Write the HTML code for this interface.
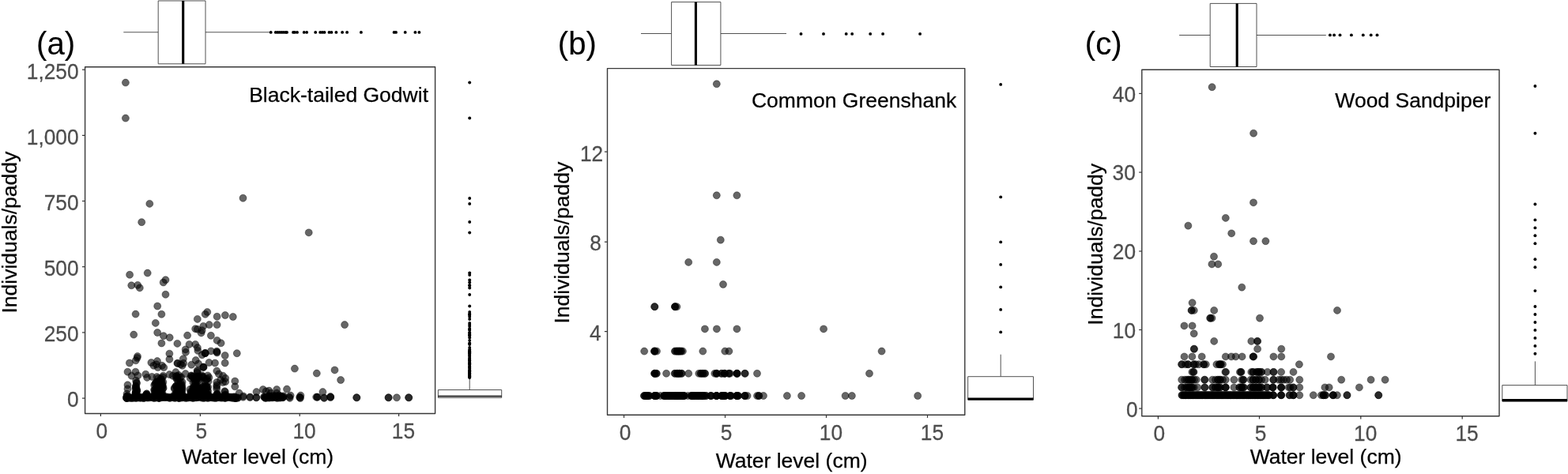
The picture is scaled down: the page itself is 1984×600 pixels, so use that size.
<!DOCTYPE html>
<html lang="en">
<head>
<meta charset="utf-8">
<title>Water level and shorebird abundance</title>
<style>
html,body{margin:0;padding:0;background:#fff;}
body{width:1984px;height:600px;overflow:hidden;}
svg{display:block;font-family:"Liberation Sans", Arial, Helvetica, sans-serif;}
.tk{font-size:26.3px;fill:#4d4d4d;stroke:#4d4d4d;stroke-width:0.25px;}
.ax{font-size:26.5px;fill:#000;stroke:#000;stroke-width:0.25px;}
.tag{font-size:40.2px;fill:#000;stroke:#000;stroke-width:0.1px;text-anchor:middle;}
.fr{fill:none;stroke:#383838;stroke-width:1.4;stroke-linejoin:round;}
.t{stroke:#333;stroke-width:1.2;fill:none;}
.bx{fill:#fff;stroke:#333;stroke-width:0.85;stroke-linejoin:round;}
.wh{stroke:#333;stroke-width:0.85;fill:none;}
.md{stroke:#000;stroke-width:3.1;fill:none;}
.p circle{fill:#000;fill-opacity:0.6;stroke:#000;stroke-opacity:0.55;stroke-width:0.7;}
.o circle{fill:#000;}
</style>
</head>
<body>
<svg width="1984" height="600" viewBox="0 0 1984 600">
<rect x="0" y="0" width="1984" height="600" fill="#fff"/>
<g id="panel-a">
<line class="wh" x1="156.3" y1="40.8" x2="200.2" y2="40.8"/>
<line class="wh" x1="260" y1="40.8" x2="342" y2="40.8"/>
<rect class="bx" x="200.2" y="1" width="59.8" height="79.8"/>
<line class="md" x1="231.7" y1="1" x2="231.7" y2="80.8"/>
<g class="o"><circle cx="342.7" cy="40.9" r="1.95"/><circle cx="348.8" cy="40.9" r="1.95"/><circle cx="351.4" cy="40.9" r="1.95"/><circle cx="354" cy="40.9" r="1.95"/><circle cx="356.5" cy="40.9" r="1.95"/><circle cx="359" cy="40.9" r="1.95"/><circle cx="361.5" cy="40.9" r="1.95"/><circle cx="363" cy="40.9" r="1.95"/><circle cx="371" cy="40.9" r="1.95"/><circle cx="373" cy="40.9" r="1.95"/><circle cx="376" cy="40.9" r="1.95"/><circle cx="384.7" cy="40.9" r="1.95"/><circle cx="388.1" cy="40.9" r="1.95"/><circle cx="399.2" cy="40.9" r="1.95"/><circle cx="405.2" cy="40.9" r="1.95"/><circle cx="407.9" cy="40.9" r="1.95"/><circle cx="410.5" cy="40.9" r="1.95"/><circle cx="416.5" cy="40.9" r="1.95"/><circle cx="419.4" cy="40.9" r="1.95"/><circle cx="425.4" cy="40.9" r="1.95"/><circle cx="433.1" cy="40.9" r="1.95"/><circle cx="439.1" cy="40.9" r="1.95"/><circle cx="456.9" cy="40.9" r="1.95"/><circle cx="498.6" cy="40.9" r="1.95"/><circle cx="501" cy="40.9" r="1.95"/><circle cx="512.7" cy="40.9" r="1.95"/><circle cx="525.4" cy="40.9" r="1.95"/><circle cx="530.4" cy="40.9" r="1.95"/></g>
<line class="wh" x1="594.2" y1="480" x2="594.2" y2="493.5"/>
<rect class="bx" x="554.4" y="493.5" width="80.3" height="9.9"/>
<line class="md" x1="554.4" y1="501.5" x2="634.7" y2="501.5" style="stroke-width:1.5"/>
<g class="o"><circle cx="594.2" cy="104.5" r="1.95"/><circle cx="594.2" cy="149.5" r="1.95"/><circle cx="594.2" cy="251" r="1.95"/><circle cx="594.2" cy="258" r="1.95"/><circle cx="594.2" cy="281" r="1.95"/><circle cx="594.2" cy="294.5" r="1.95"/><circle cx="594.2" cy="345.5" r="1.95"/><circle cx="594.2" cy="348" r="1.95"/><circle cx="594.2" cy="354.5" r="1.95"/><circle cx="594.2" cy="357.5" r="1.95"/><circle cx="594.2" cy="361" r="1.95"/><circle cx="594.2" cy="361.5" r="1.95"/><circle cx="594.2" cy="364.5" r="1.95"/><circle cx="594.2" cy="373" r="1.95"/><circle cx="594.2" cy="387.5" r="1.95"/><circle cx="594.2" cy="395" r="1.95"/><circle cx="594.2" cy="397.5" r="1.95"/><circle cx="594.2" cy="398" r="1.95"/><circle cx="594.2" cy="399" r="1.95"/><circle cx="594.2" cy="401" r="1.95"/><circle cx="594.2" cy="404" r="1.95"/><circle cx="594.2" cy="409" r="1.95"/><circle cx="594.2" cy="411" r="1.95"/><circle cx="594.2" cy="413" r="1.95"/><circle cx="594.2" cy="416" r="1.95"/><circle cx="594.2" cy="417" r="1.95"/><circle cx="594.2" cy="418" r="1.95"/><circle cx="594.2" cy="421" r="1.95"/><circle cx="594.2" cy="421.5" r="1.95"/><circle cx="594.2" cy="423.5" r="1.95"/><circle cx="594.2" cy="424.5" r="1.95"/><circle cx="594.2" cy="425" r="1.95"/><circle cx="594.2" cy="427.5" r="1.95"/><circle cx="594.2" cy="431" r="1.95"/><circle cx="594.2" cy="434.5" r="1.95"/><circle cx="594.2" cy="435" r="1.95"/><circle cx="594.2" cy="436" r="1.95"/><circle cx="594.2" cy="440" r="1.95"/><circle cx="594.2" cy="442.5" r="1.95"/><circle cx="594.2" cy="444" r="1.95"/><circle cx="594.2" cy="444.5" r="1.95"/><circle cx="594.2" cy="445.5" r="1.95"/><circle cx="594.2" cy="446" r="1.95"/><circle cx="594.2" cy="446.5" r="1.95"/><circle cx="594.2" cy="447" r="1.95"/><circle cx="594.2" cy="447.5" r="1.95"/><circle cx="594.2" cy="449" r="1.95"/><circle cx="594.2" cy="450" r="1.95"/><circle cx="594.2" cy="451" r="1.95"/><circle cx="594.2" cy="453" r="1.95"/><circle cx="594.2" cy="454" r="1.95"/><circle cx="594.2" cy="455" r="1.95"/><circle cx="594.2" cy="456" r="1.95"/><circle cx="594.2" cy="456.5" r="1.95"/><circle cx="594.2" cy="457" r="1.95"/><circle cx="594.2" cy="459" r="1.95"/><circle cx="594.2" cy="459.5" r="1.95"/><circle cx="594.2" cy="460" r="1.95"/><circle cx="594.2" cy="460.5" r="1.95"/><circle cx="594.2" cy="461.5" r="1.95"/><circle cx="594.2" cy="463" r="1.95"/><circle cx="594.2" cy="464.5" r="1.95"/><circle cx="594.2" cy="465" r="1.95"/><circle cx="594.2" cy="466.5" r="1.95"/><circle cx="594.2" cy="468.5" r="1.95"/><circle cx="594.2" cy="469" r="1.95"/><circle cx="594.2" cy="469.5" r="1.95"/><circle cx="594.2" cy="470" r="1.95"/><circle cx="594.2" cy="470.5" r="1.95"/><circle cx="594.2" cy="471" r="1.95"/><circle cx="594.2" cy="472" r="1.95"/><circle cx="594.2" cy="472.5" r="1.95"/><circle cx="594.2" cy="473" r="1.95"/><circle cx="594.2" cy="473.5" r="1.95"/><circle cx="594.2" cy="474" r="1.95"/><circle cx="594.2" cy="475" r="1.95"/><circle cx="594.2" cy="475.5" r="1.95"/><circle cx="594.2" cy="476" r="1.95"/><circle cx="594.2" cy="476.5" r="1.95"/><circle cx="594.2" cy="477" r="1.95"/><circle cx="594.2" cy="477.5" r="1.95"/><circle cx="594.2" cy="478" r="1.95"/></g>
<g class="p"><circle cx="158.9" cy="104.6" r="4.5"/><circle cx="158.9" cy="149.6" r="4.5"/><circle cx="189.3" cy="257.9" r="4.5"/><circle cx="179.2" cy="281.2" r="4.5"/><circle cx="307.5" cy="250.8" r="4.5"/><circle cx="390.7" cy="294.4" r="4.5"/><circle cx="164.1" cy="347.8" r="4.5"/><circle cx="186.7" cy="345.6" r="4.5"/>
<circle cx="209.5" cy="354.3" r="4.5"/><circle cx="206.7" cy="357.5" r="4.5"/><circle cx="166.3" cy="361.3" r="4.5"/><circle cx="174.2" cy="360.9" r="4.5"/><circle cx="176.8" cy="364.4" r="4.5"/><circle cx="209.5" cy="372.8" r="4.5"/><circle cx="199.2" cy="387.5" r="4.5"/><circle cx="171.6" cy="397.6" r="4.5"/>
<circle cx="204.4" cy="397.8" r="4.5"/><circle cx="196.8" cy="408.9" r="4.5"/><circle cx="169.2" cy="423.6" r="4.5"/><circle cx="199.2" cy="421" r="4.5"/><circle cx="206.9" cy="425.2" r="4.5"/><circle cx="214.7" cy="427.3" r="4.5"/><circle cx="204.4" cy="434.5" r="4.5"/><circle cx="224.4" cy="434.9" r="4.5"/>
<circle cx="237.1" cy="424.6" r="4.5"/><circle cx="239.5" cy="435.9" r="4.5"/><circle cx="247.2" cy="435.9" r="4.5"/><circle cx="249.8" cy="403.9" r="4.5"/><circle cx="262.3" cy="395" r="4.5"/><circle cx="259.7" cy="397.8" r="4.5"/><circle cx="274.6" cy="400.8" r="4.5"/><circle cx="284.9" cy="399" r="4.5"/>
<circle cx="294.8" cy="401" r="4.5"/><circle cx="264.7" cy="411.1" r="4.5"/><circle cx="274.6" cy="411.1" r="4.5"/><circle cx="257.3" cy="412.9" r="4.5"/><circle cx="247.2" cy="416.2" r="4.5"/><circle cx="249.8" cy="416.8" r="4.5"/><circle cx="255.6" cy="418.2" r="4.5"/><circle cx="254.6" cy="421.4" r="4.5"/>
<circle cx="266.9" cy="424.8" r="4.5"/><circle cx="274.6" cy="430.9" r="4.5"/><circle cx="279.6" cy="434.3" r="4.5"/><circle cx="436.1" cy="411.1" r="4.5"/><circle cx="234.7" cy="442.4" r="4.5"/><circle cx="235" cy="445.9" r="4.5"/><circle cx="249.9" cy="440.1" r="4.5"/><circle cx="250.4" cy="443.9" r="4.5"/>
<circle cx="259.5" cy="446.9" r="4.5"/><circle cx="255.7" cy="449.2" r="4.5"/><circle cx="267" cy="444.4" r="4.5"/><circle cx="274.3" cy="444.7" r="4.5"/><circle cx="274.6" cy="446.5" r="4.5"/><circle cx="284.7" cy="450" r="4.5"/><circle cx="299.8" cy="447.2" r="4.5"/><circle cx="214.4" cy="447.7" r="4.5"/>
<circle cx="214.4" cy="454.8" r="4.5"/><circle cx="174" cy="451" r="4.5"/><circle cx="173.6" cy="453" r="4.5"/><circle cx="171.8" cy="456.3" r="4.5"/><circle cx="163.9" cy="459.5" r="4.5"/><circle cx="199" cy="457.1" r="4.5"/><circle cx="191.4" cy="459" r="4.5"/><circle cx="194.4" cy="462.8" r="4.5"/>
<circle cx="197.8" cy="461.3" r="4.5"/><circle cx="199.7" cy="465.1" r="4.5"/><circle cx="205" cy="462.8" r="4.5"/><circle cx="207.3" cy="465.1" r="4.5"/><circle cx="231.8" cy="454.2" r="4.5"/><circle cx="224.7" cy="459.8" r="4.5"/><circle cx="228.5" cy="461.3" r="4.5"/><circle cx="232.2" cy="459.8" r="4.5"/>
<circle cx="230.7" cy="462.8" r="4.5"/><circle cx="247.7" cy="456" r="4.5"/><circle cx="251.1" cy="460.5" r="4.5"/><circle cx="242.2" cy="461.7" r="4.5"/><circle cx="257.2" cy="464.6" r="4.5"/><circle cx="257.5" cy="464.9" r="4.5"/><circle cx="264.5" cy="459" r="4.5"/><circle cx="272" cy="459.5" r="4.5"/>
<circle cx="284.7" cy="459.5" r="4.5"/><circle cx="372.9" cy="466.6" r="4.5"/><circle cx="400.8" cy="472.6" r="4.5"/><circle cx="423.5" cy="468.4" r="4.5"/><circle cx="431.1" cy="481" r="4.5"/><circle cx="161.5" cy="470.7" r="4.5"/><circle cx="171.5" cy="470.7" r="4.5"/><circle cx="166.5" cy="475.7" r="4.5"/>
<circle cx="174.5" cy="475.4" r="4.5"/><circle cx="184.3" cy="473.7" r="4.5"/><circle cx="186.1" cy="477.9" r="4.5"/><circle cx="192.2" cy="476.9" r="4.5"/><circle cx="206.5" cy="475.7" r="4.5"/><circle cx="214.4" cy="474.1" r="4.5"/><circle cx="222.4" cy="471.1" r="4.5"/><circle cx="218.6" cy="475.7" r="4.5"/>
<circle cx="226.2" cy="474.9" r="4.5"/><circle cx="229.2" cy="477.2" r="4.5"/><circle cx="234.7" cy="473.1" r="4.5"/><circle cx="242.2" cy="475.7" r="4.5"/><circle cx="249.6" cy="468.9" r="4.5"/><circle cx="249.6" cy="471.9" r="4.5"/><circle cx="251.9" cy="476.4" r="4.5"/><circle cx="257.2" cy="477.9" r="4.5"/>
<circle cx="264.5" cy="477.9" r="4.5"/><circle cx="274.3" cy="469.6" r="4.5"/><circle cx="276.9" cy="473.4" r="4.5"/><circle cx="282.1" cy="475.7" r="4.5"/><circle cx="285.2" cy="478.7" r="4.5"/><circle cx="279.1" cy="481" r="4.5"/><circle cx="282.1" cy="484" r="4.5"/><circle cx="285.2" cy="483.2" r="4.5"/>
<circle cx="274.3" cy="484" r="4.5"/><circle cx="297.3" cy="482.5" r="4.5"/><circle cx="297.3" cy="489.3" r="4.5"/><circle cx="161.5" cy="487.3" r="4.5"/><circle cx="161.5" cy="492.3" r="4.5"/><circle cx="302.6" cy="497.6" r="4.5"/><circle cx="307.9" cy="501.4" r="4.5"/><circle cx="324.5" cy="496.1" r="4.5"/>
<circle cx="332.8" cy="493" r="4.5"/><circle cx="336.6" cy="495.3" r="4.5"/><circle cx="340.4" cy="494.6" r="4.5"/><circle cx="342.6" cy="497.6" r="4.5"/><circle cx="350.2" cy="493" r="4.5"/><circle cx="350.2" cy="497.6" r="4.5"/><circle cx="363" cy="492.6" r="4.5"/><circle cx="367.6" cy="500.6" r="4.5"/>
<circle cx="380.4" cy="500.6" r="4.5"/><circle cx="408.4" cy="496.1" r="4.5"/><circle cx="418.2" cy="502.1" r="4.5"/><circle cx="259.6" cy="447" r="4.5"/><circle cx="259.8" cy="447.2" r="4.5"/><circle cx="274.4" cy="445.5" r="4.5"/><circle cx="224.5" cy="459.9" r="4.5"/><circle cx="257.4" cy="464.8" r="4.5"/>
<circle cx="249.8" cy="470.1" r="4.5"/><circle cx="451.2" cy="503.3" r="4.5"/><circle cx="451.4" cy="503.3" r="4.5"/><circle cx="491.5" cy="503.3" r="4.5"/><circle cx="491.7" cy="503.3" r="4.5"/><circle cx="502" cy="503.3" r="4.5"/><circle cx="517.1" cy="503.3" r="4.5"/><circle cx="517.3" cy="503.3" r="4.5"/>
<circle cx="307.6" cy="502.7" r="4.5"/><circle cx="316.4" cy="502.5" r="4.5"/><circle cx="316.3" cy="503.1" r="4.5"/><circle cx="324.3" cy="503.3" r="4.5"/><circle cx="324.3" cy="503.2" r="4.5"/><circle cx="366.1" cy="502.6" r="4.5"/><circle cx="366.7" cy="503.9" r="4.5"/><circle cx="379.1" cy="502.8" r="4.5"/>
<circle cx="379.9" cy="504.1" r="4.5"/><circle cx="379.8" cy="503.1" r="4.5"/><circle cx="401.6" cy="502.5" r="4.5"/><circle cx="401.4" cy="502.9" r="4.5"/><circle cx="400.2" cy="502.6" r="4.5"/><circle cx="410.2" cy="503.9" r="4.5"/><circle cx="410" cy="503.4" r="4.5"/><circle cx="418.2" cy="503.1" r="4.5"/>
<circle cx="418.1" cy="502.5" r="4.5"/><circle cx="335.5" cy="503.2" r="4.5"/><circle cx="344.7" cy="501.1" r="4.5"/><circle cx="341.9" cy="502.1" r="4.5"/><circle cx="341.5" cy="502.9" r="4.5"/><circle cx="353.9" cy="503.5" r="4.5"/><circle cx="348.4" cy="502.6" r="4.5"/><circle cx="347.1" cy="501.7" r="4.5"/>
<circle cx="341.2" cy="501.7" r="4.5"/><circle cx="358.5" cy="502.5" r="4.5"/><circle cx="352.9" cy="502.6" r="4.5"/><circle cx="337.8" cy="503.4" r="4.5"/><circle cx="350.7" cy="504" r="4.5"/><circle cx="353.1" cy="500.3" r="4.5"/><circle cx="341.8" cy="502.2" r="4.5"/><circle cx="351.4" cy="501.8" r="4.5"/>
<circle cx="345.4" cy="502.5" r="4.5"/><circle cx="355" cy="501.9" r="4.5"/><circle cx="350.6" cy="503.2" r="4.5"/><circle cx="335.5" cy="503.1" r="4.5"/><circle cx="358.8" cy="501.2" r="4.5"/><circle cx="354.5" cy="503.6" r="4.5"/><circle cx="350.7" cy="502.1" r="4.5"/><circle cx="334.6" cy="502.8" r="4.5"/>
<circle cx="336.9" cy="503.7" r="4.5"/><circle cx="335.5" cy="503.9" r="4.5"/><circle cx="340.2" cy="503" r="4.5"/><circle cx="343.8" cy="503.4" r="4.5"/><circle cx="345.2" cy="503.4" r="4.5"/><circle cx="347.7" cy="501.2" r="4.5"/><circle cx="355.6" cy="501.5" r="4.5"/><circle cx="341" cy="502.4" r="4.5"/>
<circle cx="356.1" cy="503" r="4.5"/><circle cx="357.9" cy="503.3" r="4.5"/><circle cx="339.8" cy="503" r="4.5"/><circle cx="339.8" cy="501.3" r="4.5"/><circle cx="340.6" cy="503.7" r="4.5"/><circle cx="334.1" cy="502.3" r="4.5"/><circle cx="348.2" cy="503.1" r="4.5"/><circle cx="357.8" cy="503.1" r="4.5"/>
<circle cx="349.4" cy="501.8" r="4.5"/><circle cx="160.1" cy="503.9" r="4.5"/><circle cx="160.3" cy="502.8" r="4.5"/><circle cx="162.5" cy="502.7" r="4.5"/><circle cx="162.1" cy="503.4" r="4.5"/><circle cx="164.1" cy="503" r="4.5"/><circle cx="164" cy="503.9" r="4.5"/><circle cx="166.4" cy="503.7" r="4.5"/>
<circle cx="166.5" cy="503.9" r="4.5"/><circle cx="168.4" cy="503.8" r="4.5"/><circle cx="168.5" cy="503.4" r="4.5"/><circle cx="170.6" cy="502.6" r="4.5"/><circle cx="171.1" cy="503.8" r="4.5"/><circle cx="173" cy="503.4" r="4.5"/><circle cx="173.1" cy="503.8" r="4.5"/><circle cx="175.7" cy="502.4" r="4.5"/>
<circle cx="175.4" cy="503.2" r="4.5"/><circle cx="177.3" cy="503.8" r="4.5"/><circle cx="177.5" cy="503.6" r="4.5"/><circle cx="180.1" cy="503.7" r="4.5"/><circle cx="179.4" cy="502.5" r="4.5"/><circle cx="182" cy="503.8" r="4.5"/><circle cx="182" cy="504" r="4.5"/><circle cx="184.2" cy="502.4" r="4.5"/>
<circle cx="184.5" cy="502.9" r="4.5"/><circle cx="186.2" cy="503.4" r="4.5"/><circle cx="186.1" cy="502.8" r="4.5"/><circle cx="188.6" cy="502.8" r="4.5"/><circle cx="188.5" cy="503.6" r="4.5"/><circle cx="191" cy="502.4" r="4.5"/><circle cx="191.1" cy="502.7" r="4.5"/><circle cx="193.3" cy="502.8" r="4.5"/>
<circle cx="192.8" cy="503.2" r="4.5"/><circle cx="195.1" cy="504" r="4.5"/><circle cx="194.8" cy="503.6" r="4.5"/><circle cx="197.2" cy="502.9" r="4.5"/><circle cx="197.8" cy="503.3" r="4.5"/><circle cx="199.9" cy="502.4" r="4.5"/><circle cx="200" cy="503.4" r="4.5"/><circle cx="201.6" cy="503.6" r="4.5"/>
<circle cx="201.6" cy="503.7" r="4.5"/><circle cx="204.1" cy="502.6" r="4.5"/><circle cx="204.3" cy="503.2" r="4.5"/><circle cx="206.3" cy="502.7" r="4.5"/><circle cx="205.9" cy="502.9" r="4.5"/><circle cx="208.7" cy="502.7" r="4.5"/><circle cx="208.6" cy="503.2" r="4.5"/><circle cx="210.3" cy="502.7" r="4.5"/>
<circle cx="210.5" cy="502.7" r="4.5"/><circle cx="213.2" cy="503.4" r="4.5"/><circle cx="212.7" cy="502.5" r="4.5"/><circle cx="215.2" cy="503.7" r="4.5"/><circle cx="214.7" cy="503.8" r="4.5"/><circle cx="217.5" cy="502.7" r="4.5"/><circle cx="216.9" cy="502.7" r="4.5"/><circle cx="219.8" cy="502.9" r="4.5"/>
<circle cx="219.3" cy="503.1" r="4.5"/><circle cx="221.3" cy="504" r="4.5"/><circle cx="222" cy="503" r="4.5"/><circle cx="223.8" cy="502.5" r="4.5"/><circle cx="223.7" cy="502.6" r="4.5"/><circle cx="226.3" cy="503.7" r="4.5"/><circle cx="225.8" cy="503.5" r="4.5"/><circle cx="228" cy="503.1" r="4.5"/>
<circle cx="228" cy="503.3" r="4.5"/><circle cx="230.1" cy="502.5" r="4.5"/><circle cx="230.3" cy="503.3" r="4.5"/><circle cx="232.7" cy="502.6" r="4.5"/><circle cx="232.5" cy="502.5" r="4.5"/><circle cx="234.8" cy="503.1" r="4.5"/><circle cx="234.8" cy="504" r="4.5"/><circle cx="237" cy="503.7" r="4.5"/>
<circle cx="236.6" cy="502.7" r="4.5"/><circle cx="238.9" cy="503.2" r="4.5"/><circle cx="239.4" cy="503.1" r="4.5"/><circle cx="241.3" cy="503.2" r="4.5"/><circle cx="241.4" cy="502.7" r="4.5"/><circle cx="243.3" cy="503.1" r="4.5"/><circle cx="243.4" cy="503.6" r="4.5"/><circle cx="246" cy="503.2" r="4.5"/>
<circle cx="245.8" cy="502.8" r="4.5"/><circle cx="248.3" cy="503.3" r="4.5"/><circle cx="248.1" cy="503.2" r="4.5"/><circle cx="250.2" cy="502.9" r="4.5"/><circle cx="250.2" cy="503.1" r="4.5"/><circle cx="252.4" cy="502.5" r="4.5"/><circle cx="252.6" cy="502.6" r="4.5"/><circle cx="255" cy="503.6" r="4.5"/>
<circle cx="254.6" cy="502.5" r="4.5"/><circle cx="257.1" cy="503.8" r="4.5"/><circle cx="256.5" cy="503.3" r="4.5"/><circle cx="258.7" cy="503.6" r="4.5"/><circle cx="258.7" cy="502.9" r="4.5"/><circle cx="261.4" cy="502.6" r="4.5"/><circle cx="260.9" cy="502.9" r="4.5"/><circle cx="263.5" cy="503.8" r="4.5"/>
<circle cx="263.7" cy="502.5" r="4.5"/><circle cx="265.4" cy="502.5" r="4.5"/><circle cx="265.5" cy="503.2" r="4.5"/><circle cx="268.2" cy="502.7" r="4.5"/><circle cx="267.5" cy="503.3" r="4.5"/><circle cx="270" cy="503.5" r="4.5"/><circle cx="269.8" cy="503.5" r="4.5"/><circle cx="272.4" cy="504" r="4.5"/>
<circle cx="272.2" cy="503.3" r="4.5"/><circle cx="274" cy="503.5" r="4.5"/><circle cx="274.5" cy="503.2" r="4.5"/><circle cx="276.3" cy="502.4" r="4.5"/><circle cx="276.8" cy="502.4" r="4.5"/><circle cx="278.5" cy="503.6" r="4.5"/><circle cx="278.4" cy="502.8" r="4.5"/><circle cx="280.8" cy="503.8" r="4.5"/>
<circle cx="280.9" cy="502.5" r="4.5"/><circle cx="283.5" cy="503.6" r="4.5"/><circle cx="282.9" cy="502.5" r="4.5"/><circle cx="285.5" cy="502.9" r="4.5"/><circle cx="285.1" cy="503.9" r="4.5"/><circle cx="287.8" cy="503.3" r="4.5"/><circle cx="287.3" cy="502.5" r="4.5"/><circle cx="289.9" cy="502.7" r="4.5"/>
<circle cx="289.5" cy="502.6" r="4.5"/><circle cx="291.7" cy="502.6" r="4.5"/><circle cx="292" cy="503.5" r="4.5"/><circle cx="294.2" cy="502.5" r="4.5"/><circle cx="294" cy="503.8" r="4.5"/><circle cx="296.4" cy="503.6" r="4.5"/><circle cx="296.1" cy="503.7" r="4.5"/><circle cx="298.2" cy="503.7" r="4.5"/>
<circle cx="298.4" cy="503.5" r="4.5"/><circle cx="301" cy="503.5" r="4.5"/><circle cx="300.8" cy="503.7" r="4.5"/><circle cx="160.4" cy="504" r="4.5"/><circle cx="160.3" cy="504" r="4.5"/><circle cx="160.9" cy="502.5" r="4.5"/><circle cx="160.2" cy="502.7" r="4.5"/><circle cx="161.1" cy="503.7" r="4.5"/>
<circle cx="161" cy="502.8" r="4.5"/><circle cx="160.6" cy="501.7" r="4.5"/><circle cx="160.5" cy="498.6" r="4.5"/><circle cx="160.8" cy="501.2" r="4.5"/><circle cx="172.2" cy="490.8" r="4.5"/><circle cx="172.9" cy="494" r="4.5"/><circle cx="172.3" cy="498.5" r="4.5"/><circle cx="171.6" cy="501.9" r="4.5"/>
<circle cx="171.6" cy="492.3" r="4.5"/><circle cx="172" cy="501.4" r="4.5"/><circle cx="171.7" cy="490.7" r="4.5"/><circle cx="173.2" cy="493.4" r="4.5"/><circle cx="172.1" cy="500.2" r="4.5"/><circle cx="172.1" cy="496.7" r="4.5"/><circle cx="171.8" cy="497" r="4.5"/><circle cx="172" cy="488.8" r="4.5"/>
<circle cx="173.4" cy="495.4" r="4.5"/><circle cx="172" cy="488.7" r="4.5"/><circle cx="172.1" cy="498.4" r="4.5"/><circle cx="171.5" cy="498" r="4.5"/><circle cx="172.4" cy="496.1" r="4.5"/><circle cx="171.9" cy="496" r="4.5"/><circle cx="171.5" cy="499.8" r="4.5"/><circle cx="171.7" cy="497.7" r="4.5"/>
<circle cx="171.6" cy="503.6" r="4.5"/><circle cx="172.1" cy="481.8" r="4.5"/><circle cx="172.7" cy="484.2" r="4.5"/><circle cx="173" cy="485.3" r="4.5"/><circle cx="185.6" cy="499.9" r="4.5"/><circle cx="185.1" cy="502.5" r="4.5"/><circle cx="186" cy="503.3" r="4.5"/><circle cx="185.6" cy="501" r="4.5"/>
<circle cx="184.7" cy="500.1" r="4.5"/><circle cx="185.8" cy="501.1" r="4.5"/><circle cx="185.6" cy="500.2" r="4.5"/><circle cx="184.8" cy="501.5" r="4.5"/><circle cx="185.3" cy="500.1" r="4.5"/><circle cx="185.7" cy="498.3" r="4.5"/><circle cx="185.4" cy="498.7" r="4.5"/><circle cx="203.1" cy="488.9" r="4.5"/>
<circle cx="197.8" cy="503.3" r="4.5"/><circle cx="196.7" cy="496.1" r="4.5"/><circle cx="196.4" cy="485.8" r="4.5"/><circle cx="201.6" cy="490.3" r="4.5"/><circle cx="202.4" cy="489.2" r="4.5"/><circle cx="200.8" cy="503.9" r="4.5"/><circle cx="204.4" cy="487.7" r="4.5"/><circle cx="201" cy="492.3" r="4.5"/>
<circle cx="202.8" cy="502.6" r="4.5"/><circle cx="203.7" cy="498.5" r="4.5"/><circle cx="196.1" cy="498.2" r="4.5"/><circle cx="203.6" cy="499.5" r="4.5"/><circle cx="203.7" cy="482.7" r="4.5"/><circle cx="200.9" cy="495.7" r="4.5"/><circle cx="200.7" cy="489.1" r="4.5"/><circle cx="204" cy="490.5" r="4.5"/>
<circle cx="202.6" cy="502.3" r="4.5"/><circle cx="196.9" cy="498.5" r="4.5"/><circle cx="203.7" cy="497.4" r="4.5"/><circle cx="201.7" cy="503.7" r="4.5"/><circle cx="195.9" cy="498.1" r="4.5"/><circle cx="202.9" cy="488.9" r="4.5"/><circle cx="203" cy="497.7" r="4.5"/><circle cx="201.1" cy="493.9" r="4.5"/>
<circle cx="200.6" cy="501.4" r="4.5"/><circle cx="205.5" cy="499.7" r="4.5"/><circle cx="206.4" cy="483.6" r="4.5"/><circle cx="195.4" cy="494" r="4.5"/><circle cx="204.6" cy="482.9" r="4.5"/><circle cx="200.4" cy="498.1" r="4.5"/><circle cx="197.6" cy="483.4" r="4.5"/><circle cx="197.6" cy="491.3" r="4.5"/>
<circle cx="196.8" cy="492.6" r="4.5"/><circle cx="206.2" cy="501.1" r="4.5"/><circle cx="204.6" cy="492.9" r="4.5"/><circle cx="205.4" cy="488.7" r="4.5"/><circle cx="197.9" cy="484.4" r="4.5"/><circle cx="200.8" cy="503.5" r="4.5"/><circle cx="195.2" cy="493.3" r="4.5"/><circle cx="200.4" cy="497.4" r="4.5"/>
<circle cx="196.8" cy="496.5" r="4.5"/><circle cx="198.8" cy="485.7" r="4.5"/><circle cx="195.2" cy="487.6" r="4.5"/><circle cx="204.8" cy="501.4" r="4.5"/><circle cx="205.9" cy="488.5" r="4.5"/><circle cx="205.6" cy="497.7" r="4.5"/><circle cx="199.5" cy="495.4" r="4.5"/><circle cx="206.7" cy="491.2" r="4.5"/>
<circle cx="199.3" cy="494.7" r="4.5"/><circle cx="198.4" cy="502.9" r="4.5"/><circle cx="196.4" cy="485.8" r="4.5"/><circle cx="198.5" cy="483.6" r="4.5"/><circle cx="198.1" cy="498.2" r="4.5"/><circle cx="201.1" cy="499.9" r="4.5"/><circle cx="199.5" cy="483.2" r="4.5"/><circle cx="205.4" cy="486.3" r="4.5"/>
<circle cx="202.5" cy="484.1" r="4.5"/><circle cx="206" cy="492" r="4.5"/><circle cx="203.5" cy="502.9" r="4.5"/><circle cx="203.6" cy="479.2" r="4.5"/><circle cx="203.9" cy="480.3" r="4.5"/><circle cx="198.5" cy="477.1" r="4.5"/><circle cx="205.9" cy="477.5" r="4.5"/><circle cx="200.6" cy="478.7" r="4.5"/>
<circle cx="223.6" cy="491.6" r="4.5"/><circle cx="230.7" cy="499.6" r="4.5"/><circle cx="227.4" cy="498.9" r="4.5"/><circle cx="226.3" cy="497.4" r="4.5"/><circle cx="222.2" cy="501.3" r="4.5"/><circle cx="222.6" cy="488.8" r="4.5"/><circle cx="225.7" cy="500.3" r="4.5"/><circle cx="230" cy="487.3" r="4.5"/>
<circle cx="225.2" cy="501.7" r="4.5"/><circle cx="222.4" cy="502.5" r="4.5"/><circle cx="224" cy="502.5" r="4.5"/><circle cx="222.9" cy="499.7" r="4.5"/><circle cx="226.4" cy="489.1" r="4.5"/><circle cx="228.3" cy="497.1" r="4.5"/><circle cx="224.8" cy="495.2" r="4.5"/><circle cx="224.4" cy="498.3" r="4.5"/>
<circle cx="221.1" cy="499.3" r="4.5"/><circle cx="230.7" cy="501.9" r="4.5"/><circle cx="225.7" cy="493.4" r="4.5"/><circle cx="229.5" cy="500.4" r="4.5"/><circle cx="223.3" cy="499.8" r="4.5"/><circle cx="224.6" cy="496.5" r="4.5"/><circle cx="230.5" cy="489.7" r="4.5"/><circle cx="229.7" cy="503.6" r="4.5"/>
<circle cx="220.7" cy="492.1" r="4.5"/><circle cx="229.9" cy="496" r="4.5"/><circle cx="226.6" cy="504" r="4.5"/><circle cx="224.6" cy="488.4" r="4.5"/><circle cx="229.2" cy="489.6" r="4.5"/><circle cx="230.7" cy="499.8" r="4.5"/><circle cx="221.6" cy="501.4" r="4.5"/><circle cx="225.9" cy="492.5" r="4.5"/>
<circle cx="230.4" cy="491.9" r="4.5"/><circle cx="227.3" cy="491.2" r="4.5"/><circle cx="225.2" cy="494.7" r="4.5"/><circle cx="220.8" cy="490.9" r="4.5"/><circle cx="222.9" cy="488.5" r="4.5"/><circle cx="227.2" cy="498.9" r="4.5"/><circle cx="221.8" cy="499.8" r="4.5"/><circle cx="227.1" cy="492.3" r="4.5"/>
<circle cx="221.6" cy="502.8" r="4.5"/><circle cx="226" cy="494.2" r="4.5"/><circle cx="224.5" cy="500.2" r="4.5"/><circle cx="226.8" cy="503.8" r="4.5"/><circle cx="223.6" cy="496.3" r="4.5"/><circle cx="230.6" cy="493.2" r="4.5"/><circle cx="229.8" cy="496" r="4.5"/><circle cx="222.9" cy="478.6" r="4.5"/>
<circle cx="230.6" cy="483.8" r="4.5"/><circle cx="223.7" cy="476" r="4.5"/><circle cx="225.7" cy="483.5" r="4.5"/><circle cx="224.9" cy="478.7" r="4.5"/><circle cx="227.5" cy="486.3" r="4.5"/><circle cx="222.8" cy="476.2" r="4.5"/><circle cx="224" cy="480.6" r="4.5"/><circle cx="227.6" cy="478.1" r="4.5"/>
<circle cx="228.8" cy="484.2" r="4.5"/><circle cx="252.5" cy="501" r="4.5"/><circle cx="263.5" cy="499.4" r="4.5"/><circle cx="259.9" cy="500.6" r="4.5"/><circle cx="245.7" cy="492.7" r="4.5"/><circle cx="247.5" cy="489.9" r="4.5"/><circle cx="252.2" cy="501.2" r="4.5"/><circle cx="245.8" cy="497.8" r="4.5"/>
<circle cx="256.3" cy="490" r="4.5"/><circle cx="244" cy="498.2" r="4.5"/><circle cx="245.5" cy="489.6" r="4.5"/><circle cx="243.9" cy="503.2" r="4.5"/><circle cx="241.9" cy="498.2" r="4.5"/><circle cx="261.8" cy="490.9" r="4.5"/><circle cx="257.9" cy="489.2" r="4.5"/><circle cx="262.6" cy="499.1" r="4.5"/>
<circle cx="244.9" cy="490.1" r="4.5"/><circle cx="258.2" cy="503.5" r="4.5"/><circle cx="256.2" cy="498.4" r="4.5"/><circle cx="249.4" cy="499.1" r="4.5"/><circle cx="244.5" cy="504" r="4.5"/><circle cx="247.1" cy="498.8" r="4.5"/><circle cx="263.1" cy="502.2" r="4.5"/><circle cx="263.4" cy="500.9" r="4.5"/>
<circle cx="249" cy="491.8" r="4.5"/><circle cx="260" cy="497.6" r="4.5"/><circle cx="241.7" cy="497" r="4.5"/><circle cx="249.3" cy="490.4" r="4.5"/><circle cx="245.1" cy="498.6" r="4.5"/><circle cx="261.8" cy="503.6" r="4.5"/><circle cx="250.2" cy="492" r="4.5"/><circle cx="258.7" cy="503.4" r="4.5"/>
<circle cx="241.3" cy="503.1" r="4.5"/><circle cx="262.3" cy="500.2" r="4.5"/><circle cx="258.2" cy="490.7" r="4.5"/><circle cx="248.5" cy="500" r="4.5"/><circle cx="263.2" cy="494.9" r="4.5"/><circle cx="246.7" cy="493.4" r="4.5"/><circle cx="248" cy="499.9" r="4.5"/><circle cx="240.6" cy="492.8" r="4.5"/>
<circle cx="262.2" cy="494.6" r="4.5"/><circle cx="262.9" cy="503.6" r="4.5"/><circle cx="246" cy="497" r="4.5"/><circle cx="263.2" cy="489.9" r="4.5"/><circle cx="249.7" cy="500.3" r="4.5"/><circle cx="250.7" cy="496.7" r="4.5"/><circle cx="262.5" cy="501.3" r="4.5"/><circle cx="259.5" cy="493.1" r="4.5"/>
<circle cx="260" cy="492.6" r="4.5"/><circle cx="254.9" cy="499.1" r="4.5"/><circle cx="248.1" cy="498.6" r="4.5"/><circle cx="259" cy="502.8" r="4.5"/><circle cx="245.2" cy="492.9" r="4.5"/><circle cx="246.4" cy="503" r="4.5"/><circle cx="241.3" cy="495.8" r="4.5"/><circle cx="248.2" cy="489.5" r="4.5"/>
<circle cx="261.4" cy="489.4" r="4.5"/><circle cx="246.8" cy="502.8" r="4.5"/><circle cx="242.8" cy="496.6" r="4.5"/><circle cx="257.3" cy="497.4" r="4.5"/><circle cx="246.1" cy="497.8" r="4.5"/><circle cx="255.2" cy="494" r="4.5"/><circle cx="258.2" cy="491.5" r="4.5"/><circle cx="256.2" cy="502.2" r="4.5"/>
<circle cx="260.4" cy="499.7" r="4.5"/><circle cx="253.9" cy="498.5" r="4.5"/><circle cx="258" cy="501.1" r="4.5"/><circle cx="246.4" cy="500.4" r="4.5"/><circle cx="244.1" cy="490.9" r="4.5"/><circle cx="254.2" cy="499.2" r="4.5"/><circle cx="249.9" cy="489.3" r="4.5"/><circle cx="252.5" cy="500.6" r="4.5"/>
<circle cx="259.7" cy="494.3" r="4.5"/><circle cx="264" cy="502.5" r="4.5"/><circle cx="251.8" cy="491.9" r="4.5"/><circle cx="260.4" cy="490.5" r="4.5"/><circle cx="241.5" cy="499.7" r="4.5"/><circle cx="243.3" cy="476.7" r="4.5"/><circle cx="263.6" cy="482.8" r="4.5"/><circle cx="262.5" cy="479.5" r="4.5"/>
<circle cx="261" cy="480.7" r="4.5"/><circle cx="246.7" cy="485.8" r="4.5"/><circle cx="262.9" cy="475.4" r="4.5"/><circle cx="254.6" cy="483.3" r="4.5"/><circle cx="245.7" cy="479.5" r="4.5"/><circle cx="243.9" cy="476.9" r="4.5"/><circle cx="246.5" cy="483" r="4.5"/><circle cx="255.9" cy="476.9" r="4.5"/>
<circle cx="240.8" cy="478.8" r="4.5"/><circle cx="256.6" cy="476.7" r="4.5"/><circle cx="247.9" cy="476.9" r="4.5"/><circle cx="259.3" cy="482.2" r="4.5"/><circle cx="242" cy="475.4" r="4.5"/><circle cx="249.9" cy="482.3" r="4.5"/><circle cx="255.6" cy="475.2" r="4.5"/><circle cx="244.4" cy="484.5" r="4.5"/>
<circle cx="250.2" cy="478.2" r="4.5"/><circle cx="247.8" cy="488.5" r="4.5"/><circle cx="247.9" cy="482.5" r="4.5"/><circle cx="249" cy="480.2" r="4.5"/><circle cx="261" cy="489.1" r="4.5"/><circle cx="249.1" cy="476.8" r="4.5"/><circle cx="275" cy="503" r="4.5"/><circle cx="274" cy="499.8" r="4.5"/>
<circle cx="274.6" cy="500.1" r="4.5"/><circle cx="274.6" cy="499.9" r="4.5"/><circle cx="274.6" cy="503.2" r="4.5"/><circle cx="274" cy="501.4" r="4.5"/><circle cx="274.9" cy="499.7" r="4.5"/><circle cx="274.1" cy="501.1" r="4.5"/><circle cx="274.5" cy="501.6" r="4.5"/><circle cx="274.2" cy="489.6" r="4.5"/>
<circle cx="274.7" cy="498.3" r="4.5"/><circle cx="274.2" cy="492.4" r="4.5"/><circle cx="275.1" cy="498.9" r="4.5"/><circle cx="274.3" cy="487.5" r="4.5"/><circle cx="285.3" cy="499.4" r="4.5"/><circle cx="284.8" cy="503.7" r="4.5"/><circle cx="285.3" cy="502.2" r="4.5"/><circle cx="285.3" cy="501.1" r="4.5"/>
<circle cx="285.2" cy="503.2" r="4.5"/><circle cx="285.1" cy="503" r="4.5"/><circle cx="284.7" cy="500" r="4.5"/><circle cx="285.2" cy="503.1" r="4.5"/><circle cx="284.5" cy="502.1" r="4.5"/><circle cx="284.8" cy="495.9" r="4.5"/><circle cx="284.3" cy="495.2" r="4.5"/><circle cx="298.1" cy="503.1" r="4.5"/>
<circle cx="294.7" cy="503.4" r="4.5"/><circle cx="298.3" cy="504" r="4.5"/><circle cx="298.7" cy="503.9" r="4.5"/><circle cx="297.5" cy="503.4" r="4.5"/><circle cx="297.6" cy="503.7" r="4.5"/><circle cx="296.6" cy="503.4" r="4.5"/><circle cx="296.6" cy="503.3" r="4.5"/><circle cx="296.7" cy="502.3" r="4.5"/>
</g>
<rect class="fr" x="107.6" y="84.8" width="443" height="438.7"/>
<line class="t" x1="104" y1="88.2" x2="107.6" y2="88.2"/><text class="tk" transform="translate(99.6,99.5) scale(1,1.04)" text-anchor="end">1,250</text>
<line class="t" x1="104" y1="171.4" x2="107.6" y2="171.4"/><text class="tk" transform="translate(99.6,182.7) scale(1,1.04)" text-anchor="end">1,000</text>
<line class="t" x1="104" y1="254.5" x2="107.6" y2="254.5"/><text class="tk" transform="translate(99.6,265.8) scale(1,1.04)" text-anchor="end">750</text>
<line class="t" x1="104" y1="337.7" x2="107.6" y2="337.7"/><text class="tk" transform="translate(99.6,349) scale(1,1.04)" text-anchor="end">500</text>
<line class="t" x1="104" y1="420.9" x2="107.6" y2="420.9"/><text class="tk" transform="translate(99.6,432.2) scale(1,1.04)" text-anchor="end">250</text>
<line class="t" x1="104" y1="504.1" x2="107.6" y2="504.1"/><text class="tk" transform="translate(99.6,515.4) scale(1,1.04)" text-anchor="end">0</text>
<line class="t" x1="127.4" y1="523.5" x2="127.4" y2="527.1"/><text class="tk" transform="translate(128.9,555) scale(1,1.04)" text-anchor="middle">0</text>
<line class="t" x1="253.4" y1="523.5" x2="253.4" y2="527.1"/><text class="tk" transform="translate(254.9,555) scale(1,1.04)" text-anchor="middle">5</text>
<line class="t" x1="379.2" y1="523.5" x2="379.2" y2="527.1"/><text class="tk" transform="translate(385.1,555) scale(1,1.04)" text-anchor="middle">10</text>
<line class="t" x1="504.6" y1="523.5" x2="504.6" y2="527.1"/><text class="tk" transform="translate(510.5,555) scale(1,1.04)" text-anchor="middle">15</text>
<text class="ax" x="326.2" y="586.9" text-anchor="middle">Water level (cm)</text>
<text class="ax" transform="translate(20.8,294.1) rotate(-90)" text-anchor="middle">Individuals/paddy</text>
<text class="ax" x="542" y="129" text-anchor="end">Black-tailed Godwit</text>
<text class="tag" x="70.6" y="68.6">(a)</text>
</g>
<g id="panel-b">
<line class="wh" x1="811" y1="42.5" x2="849.6" y2="42.5"/>
<line class="wh" x1="911.9" y1="42.5" x2="995" y2="42.5"/>
<rect class="bx" x="849.6" y="2.6" width="62.3" height="79.9"/>
<line class="md" x1="880.4" y1="2.6" x2="880.4" y2="82.5"/>
<g class="o"><circle cx="1013.5" cy="42.9" r="1.95"/><circle cx="1042" cy="42.9" r="1.95"/><circle cx="1070.7" cy="42.9" r="1.95"/><circle cx="1078.2" cy="42.9" r="1.95"/><circle cx="1101.2" cy="42.9" r="1.95"/><circle cx="1117.1" cy="42.9" r="1.95"/><circle cx="1164.1" cy="42.9" r="1.95"/></g>
<line class="wh" x1="1266.2" y1="448.7" x2="1266.2" y2="476.7"/>
<rect class="bx" x="1224.7" y="476.7" width="82.8" height="29.4"/>
<line class="md" x1="1224.7" y1="505" x2="1307.5" y2="505"/>
<g class="o"><circle cx="1266.2" cy="420.4" r="1.95"/><circle cx="1266.2" cy="391.9" r="1.95"/><circle cx="1266.2" cy="363.4" r="1.95"/><circle cx="1266.2" cy="334.9" r="1.95"/><circle cx="1266.2" cy="306.4" r="1.95"/><circle cx="1266.2" cy="249.4" r="1.95"/><circle cx="1266.2" cy="106.9" r="1.95"/></g>
<g class="p"><circle cx="906.8" cy="106.3" r="4.5"/><circle cx="906.8" cy="247.3" r="4.5"/><circle cx="932.4" cy="247.3" r="4.5"/><circle cx="911.8" cy="303.7" r="4.5"/><circle cx="871.2" cy="331.9" r="4.5"/><circle cx="906.8" cy="331.9" r="4.5"/><circle cx="915" cy="360" r="4.5"/><circle cx="828.2" cy="388.2" r="4.5"/>
<circle cx="828.4" cy="388.2" r="4.5"/><circle cx="854" cy="388.2" r="4.5"/><circle cx="854.2" cy="388.2" r="4.5"/><circle cx="854.2" cy="388.2" r="4.5"/><circle cx="856.4" cy="388.2" r="4.5"/><circle cx="891.9" cy="416.4" r="4.5"/><circle cx="906.9" cy="416.4" r="4.5"/><circle cx="932.4" cy="416.4" r="4.5"/>
<circle cx="1042.1" cy="416.4" r="4.5"/><circle cx="815.2" cy="444.6" r="4.5"/><circle cx="828.1" cy="444.6" r="4.5"/><circle cx="828.1" cy="444.6" r="4.5"/><circle cx="828.6" cy="444.6" r="4.5"/><circle cx="828.3" cy="444.6" r="4.5"/><circle cx="831" cy="444.6" r="4.5"/><circle cx="853.9" cy="444.6" r="4.5"/>
<circle cx="854.4" cy="444.6" r="4.5"/><circle cx="856.8" cy="444.6" r="4.5"/><circle cx="857" cy="444.6" r="4.5"/><circle cx="856.8" cy="444.6" r="4.5"/><circle cx="859.5" cy="444.6" r="4.5"/><circle cx="859.2" cy="444.6" r="4.5"/><circle cx="859.5" cy="444.6" r="4.5"/><circle cx="861.9" cy="444.6" r="4.5"/>
<circle cx="861.7" cy="444.6" r="4.5"/><circle cx="863.9" cy="444.6" r="4.5"/><circle cx="889.3" cy="444.6" r="4.5"/><circle cx="917.3" cy="444.6" r="4.5"/><circle cx="922.4" cy="444.6" r="4.5"/><circle cx="1115.6" cy="444.6" r="4.5"/><circle cx="828.5" cy="472.8" r="4.5"/><circle cx="828.5" cy="472.8" r="4.5"/>
<circle cx="828.1" cy="472.8" r="4.5"/><circle cx="828.6" cy="472.8" r="4.5"/><circle cx="830.8" cy="472.8" r="4.5"/><circle cx="830.6" cy="472.8" r="4.5"/><circle cx="843.1" cy="472.8" r="4.5"/><circle cx="853.7" cy="472.8" r="4.5"/><circle cx="854.2" cy="472.8" r="4.5"/><circle cx="856.8" cy="472.8" r="4.5"/>
<circle cx="856.9" cy="472.8" r="4.5"/><circle cx="857" cy="472.8" r="4.5"/><circle cx="859.6" cy="472.8" r="4.5"/><circle cx="859.8" cy="472.8" r="4.5"/><circle cx="859.4" cy="472.8" r="4.5"/><circle cx="862.6" cy="472.8" r="4.5"/><circle cx="862.4" cy="472.8" r="4.5"/><circle cx="871.2" cy="472.8" r="4.5"/>
<circle cx="884.3" cy="472.8" r="4.5"/><circle cx="886.9" cy="472.8" r="4.5"/><circle cx="886.8" cy="472.8" r="4.5"/><circle cx="889.4" cy="472.8" r="4.5"/><circle cx="889.4" cy="472.8" r="4.5"/><circle cx="891.7" cy="472.8" r="4.5"/><circle cx="892.2" cy="472.8" r="4.5"/><circle cx="904.3" cy="472.8" r="4.5"/>
<circle cx="906.7" cy="472.8" r="4.5"/><circle cx="906.8" cy="472.8" r="4.5"/><circle cx="906.6" cy="472.8" r="4.5"/><circle cx="913.1" cy="472.8" r="4.5"/><circle cx="913" cy="472.8" r="4.5"/><circle cx="916.7" cy="472.8" r="4.5"/><circle cx="916.9" cy="472.8" r="4.5"/><circle cx="916.9" cy="472.8" r="4.5"/>
<circle cx="922.3" cy="472.8" r="4.5"/><circle cx="922.2" cy="472.8" r="4.5"/><circle cx="923.7" cy="472.8" r="4.5"/><circle cx="932.6" cy="472.8" r="4.5"/><circle cx="932.5" cy="472.8" r="4.5"/><circle cx="932.6" cy="472.8" r="4.5"/><circle cx="932.4" cy="472.8" r="4.5"/><circle cx="942.4" cy="472.8" r="4.5"/>
<circle cx="942.8" cy="472.8" r="4.5"/><circle cx="958" cy="472.8" r="4.5"/><circle cx="1100" cy="472.8" r="4.5"/><circle cx="815.1" cy="501" r="4.5"/><circle cx="815" cy="501" r="4.5"/><circle cx="817" cy="501" r="4.5"/><circle cx="817.1" cy="501" r="4.5"/><circle cx="816.8" cy="501" r="4.5"/>
<circle cx="819.5" cy="501" r="4.5"/><circle cx="819.3" cy="501" r="4.5"/><circle cx="819.2" cy="501" r="4.5"/><circle cx="821.3" cy="501" r="4.5"/><circle cx="821.8" cy="501" r="4.5"/><circle cx="828.7" cy="501" r="4.5"/><circle cx="828.2" cy="501" r="4.5"/><circle cx="828.6" cy="501" r="4.5"/>
<circle cx="828.3" cy="501" r="4.5"/><circle cx="830.4" cy="501" r="4.5"/><circle cx="830.5" cy="501" r="4.5"/><circle cx="830.8" cy="501" r="4.5"/><circle cx="835.6" cy="501" r="4.5"/><circle cx="840.5" cy="501" r="4.5"/><circle cx="840" cy="501" r="4.5"/><circle cx="840.4" cy="501" r="4.5"/>
<circle cx="841.9" cy="501" r="4.5"/><circle cx="842.3" cy="501" r="4.5"/><circle cx="842.1" cy="501" r="4.5"/><circle cx="844.7" cy="501" r="4.5"/><circle cx="844.8" cy="501" r="4.5"/><circle cx="844.5" cy="501" r="4.5"/><circle cx="847.3" cy="501" r="4.5"/><circle cx="846.9" cy="501" r="4.5"/>
<circle cx="846.7" cy="501" r="4.5"/><circle cx="849.6" cy="501" r="4.5"/><circle cx="849.2" cy="501" r="4.5"/><circle cx="849.3" cy="501" r="4.5"/><circle cx="851.9" cy="501" r="4.5"/><circle cx="852.1" cy="501" r="4.5"/><circle cx="851.8" cy="501" r="4.5"/><circle cx="854.2" cy="501" r="4.5"/>
<circle cx="854.7" cy="501" r="4.5"/><circle cx="854.4" cy="501" r="4.5"/><circle cx="854.8" cy="501" r="4.5"/><circle cx="857.2" cy="501" r="4.5"/><circle cx="856.9" cy="501" r="4.5"/><circle cx="857" cy="501" r="4.5"/><circle cx="857" cy="501" r="4.5"/><circle cx="859.6" cy="501" r="4.5"/>
<circle cx="859.6" cy="501" r="4.5"/><circle cx="859.5" cy="501" r="4.5"/><circle cx="859.6" cy="501" r="4.5"/><circle cx="862.3" cy="501" r="4.5"/><circle cx="862" cy="501" r="4.5"/><circle cx="862" cy="501" r="4.5"/><circle cx="864.6" cy="501" r="4.5"/><circle cx="864.3" cy="501" r="4.5"/>
<circle cx="864.4" cy="501" r="4.5"/><circle cx="865.9" cy="501" r="4.5"/><circle cx="865.6" cy="501" r="4.5"/><circle cx="870.4" cy="501" r="4.5"/><circle cx="875" cy="501" r="4.5"/><circle cx="874.7" cy="501" r="4.5"/><circle cx="874.9" cy="501" r="4.5"/><circle cx="876.5" cy="501" r="4.5"/>
<circle cx="876.2" cy="501" r="4.5"/><circle cx="878.1" cy="501" r="4.5"/><circle cx="878.1" cy="501" r="4.5"/><circle cx="877.7" cy="501" r="4.5"/><circle cx="880.6" cy="501" r="4.5"/><circle cx="880.5" cy="501" r="4.5"/><circle cx="880.6" cy="501" r="4.5"/><circle cx="882.9" cy="501" r="4.5"/>
<circle cx="883.1" cy="501" r="4.5"/><circle cx="883.1" cy="501" r="4.5"/><circle cx="885.2" cy="501" r="4.5"/><circle cx="885.2" cy="501" r="4.5"/><circle cx="885.6" cy="501" r="4.5"/><circle cx="888.3" cy="501" r="4.5"/><circle cx="887.9" cy="501" r="4.5"/><circle cx="888" cy="501" r="4.5"/>
<circle cx="888.1" cy="501" r="4.5"/><circle cx="890.4" cy="501" r="4.5"/><circle cx="890.4" cy="501" r="4.5"/><circle cx="890.4" cy="501" r="4.5"/><circle cx="893.3" cy="501" r="4.5"/><circle cx="893.5" cy="501" r="4.5"/><circle cx="899.4" cy="501" r="4.5"/><circle cx="899.4" cy="501" r="4.5"/>
<circle cx="899.7" cy="501" r="4.5"/><circle cx="906.4" cy="501" r="4.5"/><circle cx="906.7" cy="501" r="4.5"/><circle cx="906.8" cy="501" r="4.5"/><circle cx="906.6" cy="501" r="4.5"/><circle cx="912.9" cy="501" r="4.5"/><circle cx="913.3" cy="501" r="4.5"/><circle cx="912.9" cy="501" r="4.5"/>
<circle cx="915.2" cy="501" r="4.5"/><circle cx="915.4" cy="501" r="4.5"/><circle cx="915.5" cy="501" r="4.5"/><circle cx="917.4" cy="501" r="4.5"/><circle cx="917.5" cy="501" r="4.5"/><circle cx="917.5" cy="501" r="4.5"/><circle cx="923.9" cy="501" r="4.5"/><circle cx="923.7" cy="501" r="4.5"/>
<circle cx="923.9" cy="501" r="4.5"/><circle cx="925.5" cy="501" r="4.5"/><circle cx="932.1" cy="501" r="4.5"/><circle cx="932.2" cy="501" r="4.5"/><circle cx="932.4" cy="501" r="4.5"/><circle cx="932.5" cy="501" r="4.5"/><circle cx="934.2" cy="501" r="4.5"/><circle cx="934" cy="501" r="4.5"/>
<circle cx="942.4" cy="501" r="4.5"/><circle cx="942.6" cy="501" r="4.5"/><circle cx="942.4" cy="501" r="4.5"/><circle cx="945.6" cy="501" r="4.5"/><circle cx="958" cy="501" r="4.5"/><circle cx="960.2" cy="501" r="4.5"/><circle cx="960.2" cy="501" r="4.5"/><circle cx="966" cy="501" r="4.5"/>
<circle cx="995.9" cy="501" r="4.5"/><circle cx="1014.1" cy="501" r="4.5"/><circle cx="1069.6" cy="501" r="4.5"/><circle cx="1077.9" cy="501" r="4.5"/><circle cx="1161.2" cy="501" r="4.5"/></g>
<rect class="fr" x="768.5" y="86.6" width="452.3" height="438.7"/>
<line class="t" x1="764.9" y1="192.1" x2="768.5" y2="192.1"/><text class="tk" transform="translate(763.2,203.6) scale(1,1.04)" text-anchor="end">12</text>
<line class="t" x1="764.9" y1="306.2" x2="768.5" y2="306.2"/><text class="tk" transform="translate(760.9,317.3) scale(1,1.04)" text-anchor="end">8</text>
<line class="t" x1="764.9" y1="419.6" x2="768.5" y2="419.6"/><text class="tk" transform="translate(760.7,431.3) scale(1,1.04)" text-anchor="end">4</text>
<line class="t" x1="789.5" y1="525.3" x2="789.5" y2="528.9"/><text class="tk" transform="translate(791,556.6) scale(1,1.04)" text-anchor="middle">0</text>
<line class="t" x1="917.5" y1="525.3" x2="917.5" y2="528.9"/><text class="tk" transform="translate(919,556.6) scale(1,1.04)" text-anchor="middle">5</text>
<line class="t" x1="1045.5" y1="525.3" x2="1045.5" y2="528.9"/><text class="tk" transform="translate(1051.4,556.6) scale(1,1.04)" text-anchor="middle">10</text>
<line class="t" x1="1173.5" y1="525.3" x2="1173.5" y2="528.9"/><text class="tk" transform="translate(1179.4,556.6) scale(1,1.04)" text-anchor="middle">15</text>
<text class="ax" x="1001.6" y="591.9" text-anchor="middle">Water level (cm)</text>
<text class="ax" transform="translate(719.9,307.2) rotate(-90)" text-anchor="middle">Individuals/paddy</text>
<text class="ax" x="1210.2" y="135.8" text-anchor="end">Common Greenshank</text>
<text class="tag" x="730.4" y="68.6">(b)</text>
</g>
<g id="panel-c">
<line class="wh" x1="1492.1" y1="44.5" x2="1531.2" y2="44.5"/>
<line class="wh" x1="1590" y1="44.5" x2="1677.8" y2="44.5"/>
<rect class="bx" x="1531.2" y="4.4" width="58.8" height="80.1"/>
<line class="md" x1="1565.2" y1="4.4" x2="1565.2" y2="84.5"/>
<g class="o"><circle cx="1682.9" cy="44.4" r="1.95"/><circle cx="1688.1" cy="44.4" r="1.95"/><circle cx="1695.5" cy="44.4" r="1.95"/><circle cx="1709.9" cy="44.4" r="1.95"/><circle cx="1724.8" cy="44.4" r="1.95"/><circle cx="1734.7" cy="44.4" r="1.95"/><circle cx="1742.5" cy="44.4" r="1.95"/></g>
<line class="wh" x1="1942.4" y1="457.4" x2="1942.4" y2="487.6"/>
<rect class="bx" x="1900.8" y="487.6" width="82.2" height="20.4"/>
<line class="md" x1="1900.8" y1="506.6" x2="1983" y2="506.6"/>
<g class="o"><circle cx="1942.4" cy="447.8" r="1.95"/><circle cx="1942.4" cy="437.9" r="1.95"/><circle cx="1942.4" cy="427.9" r="1.95"/><circle cx="1942.4" cy="417.9" r="1.95"/><circle cx="1942.4" cy="408" r="1.95"/><circle cx="1942.4" cy="398" r="1.95"/><circle cx="1942.4" cy="388" r="1.95"/><circle cx="1942.4" cy="368.1" r="1.95"/><circle cx="1942.4" cy="338.2" r="1.95"/><circle cx="1942.4" cy="328.2" r="1.95"/><circle cx="1942.4" cy="308.3" r="1.95"/><circle cx="1942.4" cy="298.3" r="1.95"/><circle cx="1942.4" cy="288.4" r="1.95"/><circle cx="1942.4" cy="278.4" r="1.95"/><circle cx="1942.4" cy="258.5" r="1.95"/><circle cx="1942.4" cy="168.8" r="1.95"/><circle cx="1942.4" cy="109" r="1.95"/></g>
<g class="p"><circle cx="1495.5" cy="500.2" r="4.5"/><circle cx="1495.6" cy="500.2" r="4.5"/><circle cx="1497.5" cy="500.2" r="4.5"/><circle cx="1497.6" cy="500.2" r="4.5"/><circle cx="1499.4" cy="500.2" r="4.5"/><circle cx="1499.5" cy="500.2" r="4.5"/><circle cx="1500.8" cy="500.2" r="4.5"/><circle cx="1501.1" cy="500.2" r="4.5"/>
<circle cx="1503.3" cy="500.2" r="4.5"/><circle cx="1503.1" cy="500.2" r="4.5"/><circle cx="1505.2" cy="500.2" r="4.5"/><circle cx="1504.6" cy="500.2" r="4.5"/><circle cx="1506.8" cy="500.2" r="4.5"/><circle cx="1506.6" cy="500.2" r="4.5"/><circle cx="1508.7" cy="500.2" r="4.5"/><circle cx="1508.8" cy="500.2" r="4.5"/>
<circle cx="1510.3" cy="500.2" r="4.5"/><circle cx="1510.4" cy="500.2" r="4.5"/><circle cx="1512.3" cy="500.2" r="4.5"/><circle cx="1512.8" cy="500.2" r="4.5"/><circle cx="1514.6" cy="500.2" r="4.5"/><circle cx="1514.2" cy="500.2" r="4.5"/><circle cx="1516.5" cy="500.2" r="4.5"/><circle cx="1516" cy="500.2" r="4.5"/>
<circle cx="1518.3" cy="500.2" r="4.5"/><circle cx="1517.9" cy="500.2" r="4.5"/><circle cx="1519.8" cy="500.2" r="4.5"/><circle cx="1520.4" cy="500.2" r="4.5"/><circle cx="1521.8" cy="500.2" r="4.5"/><circle cx="1521.8" cy="500.2" r="4.5"/><circle cx="1524.2" cy="500.2" r="4.5"/><circle cx="1524.2" cy="500.2" r="4.5"/>
<circle cx="1525.7" cy="500.2" r="4.5"/><circle cx="1526.1" cy="500.2" r="4.5"/><circle cx="1527.7" cy="500.2" r="4.5"/><circle cx="1527.8" cy="500.2" r="4.5"/><circle cx="1529.4" cy="500.2" r="4.5"/><circle cx="1529.9" cy="500.2" r="4.5"/><circle cx="1531.6" cy="500.2" r="4.5"/><circle cx="1531.8" cy="500.2" r="4.5"/>
<circle cx="1533.7" cy="500.2" r="4.5"/><circle cx="1533.3" cy="500.2" r="4.5"/><circle cx="1535.2" cy="500.2" r="4.5"/><circle cx="1535.1" cy="500.2" r="4.5"/><circle cx="1537" cy="500.2" r="4.5"/><circle cx="1536.9" cy="500.2" r="4.5"/><circle cx="1539" cy="500.2" r="4.5"/><circle cx="1539.2" cy="500.2" r="4.5"/>
<circle cx="1540.7" cy="500.2" r="4.5"/><circle cx="1541.1" cy="500.2" r="4.5"/><circle cx="1542.8" cy="500.2" r="4.5"/><circle cx="1542.8" cy="500.2" r="4.5"/><circle cx="1545" cy="500.2" r="4.5"/><circle cx="1544.8" cy="500.2" r="4.5"/><circle cx="1546.6" cy="500.2" r="4.5"/><circle cx="1546.7" cy="500.2" r="4.5"/>
<circle cx="1548.7" cy="500.2" r="4.5"/><circle cx="1548.3" cy="500.2" r="4.5"/><circle cx="1550.8" cy="500.2" r="4.5"/><circle cx="1550.2" cy="500.2" r="4.5"/><circle cx="1552.6" cy="500.2" r="4.5"/><circle cx="1552.6" cy="500.2" r="4.5"/><circle cx="1554" cy="500.2" r="4.5"/><circle cx="1554.5" cy="500.2" r="4.5"/>
<circle cx="1556.1" cy="500.2" r="4.5"/><circle cx="1556.3" cy="500.2" r="4.5"/><circle cx="1557.8" cy="500.2" r="4.5"/><circle cx="1557.8" cy="500.2" r="4.5"/><circle cx="1559.8" cy="500.2" r="4.5"/><circle cx="1560.3" cy="500.2" r="4.5"/><circle cx="1561.7" cy="500.2" r="4.5"/><circle cx="1562.1" cy="500.2" r="4.5"/>
<circle cx="1564.1" cy="500.2" r="4.5"/><circle cx="1564.1" cy="500.2" r="4.5"/><circle cx="1565.6" cy="500.2" r="4.5"/><circle cx="1565.6" cy="500.2" r="4.5"/><circle cx="1567.6" cy="500.2" r="4.5"/><circle cx="1567.8" cy="500.2" r="4.5"/><circle cx="1569.2" cy="500.2" r="4.5"/><circle cx="1569.7" cy="500.2" r="4.5"/>
<circle cx="1571.6" cy="500.2" r="4.5"/><circle cx="1571.7" cy="500.2" r="4.5"/><circle cx="1573" cy="500.2" r="4.5"/><circle cx="1573.6" cy="500.2" r="4.5"/><circle cx="1574.9" cy="500.2" r="4.5"/><circle cx="1575.1" cy="500.2" r="4.5"/><circle cx="1577.2" cy="500.2" r="4.5"/><circle cx="1577.4" cy="500.2" r="4.5"/>
<circle cx="1578.9" cy="500.2" r="4.5"/><circle cx="1579.3" cy="500.2" r="4.5"/><circle cx="1580.9" cy="500.2" r="4.5"/><circle cx="1580.8" cy="500.2" r="4.5"/><circle cx="1582.7" cy="500.2" r="4.5"/><circle cx="1582.6" cy="500.2" r="4.5"/><circle cx="1584.4" cy="500.2" r="4.5"/><circle cx="1584.5" cy="500.2" r="4.5"/>
<circle cx="1586.7" cy="500.2" r="4.5"/><circle cx="1586.9" cy="500.2" r="4.5"/><circle cx="1588.3" cy="500.2" r="4.5"/><circle cx="1588.2" cy="500.2" r="4.5"/><circle cx="1590.7" cy="500.2" r="4.5"/><circle cx="1590.4" cy="500.2" r="4.5"/><circle cx="1592.2" cy="500.2" r="4.5"/><circle cx="1592.1" cy="500.2" r="4.5"/>
<circle cx="1594.3" cy="500.2" r="4.5"/><circle cx="1594.4" cy="500.2" r="4.5"/><circle cx="1596.1" cy="500.2" r="4.5"/><circle cx="1596" cy="500.2" r="4.5"/><circle cx="1597.7" cy="500.2" r="4.5"/><circle cx="1598.3" cy="500.2" r="4.5"/><circle cx="1599.6" cy="500.2" r="4.5"/><circle cx="1599.9" cy="500.2" r="4.5"/>
<circle cx="1602" cy="500.2" r="4.5"/><circle cx="1601.5" cy="500.2" r="4.5"/><circle cx="1603.9" cy="500.2" r="4.5"/><circle cx="1604" cy="500.2" r="4.5"/><circle cx="1605.7" cy="500.2" r="4.5"/><circle cx="1605.8" cy="500.2" r="4.5"/><circle cx="1611" cy="500.2" r="4.5"/><circle cx="1611.2" cy="500.2" r="4.5"/>
<circle cx="1611" cy="500.2" r="4.5"/><circle cx="1621.3" cy="500.2" r="4.5"/><circle cx="1620.9" cy="500.2" r="4.5"/><circle cx="1621.1" cy="500.2" r="4.5"/><circle cx="1631.8" cy="500.2" r="4.5"/><circle cx="1631.7" cy="500.2" r="4.5"/><circle cx="1636.7" cy="500.2" r="4.5"/><circle cx="1636.3" cy="500.2" r="4.5"/>
<circle cx="1636.3" cy="500.2" r="4.5"/><circle cx="1644.3" cy="500.2" r="4.5"/><circle cx="1661.8" cy="500.2" r="4.5"/><circle cx="1671.9" cy="500.2" r="4.5"/><circle cx="1674.7" cy="500.2" r="4.5"/><circle cx="1674.5" cy="500.2" r="4.5"/><circle cx="1674.4" cy="500.2" r="4.5"/><circle cx="1677.1" cy="500.2" r="4.5"/>
<circle cx="1676.9" cy="500.2" r="4.5"/><circle cx="1686.5" cy="500.2" r="4.5"/><circle cx="1687" cy="500.2" r="4.5"/><circle cx="1686.9" cy="500.2" r="4.5"/><circle cx="1691.9" cy="500.2" r="4.5"/><circle cx="1704.5" cy="500.2" r="4.5"/><circle cx="1704.4" cy="500.2" r="4.5"/><circle cx="1744.3" cy="500.2" r="4.5"/>
<circle cx="1744.2" cy="500.2" r="4.5"/><circle cx="1495" cy="490.4" r="4.5"/><circle cx="1495.4" cy="490.4" r="4.5"/><circle cx="1499" cy="490.4" r="4.5"/><circle cx="1501.5" cy="490.4" r="4.5"/><circle cx="1501.2" cy="490.4" r="4.5"/><circle cx="1504.1" cy="490.4" r="4.5"/><circle cx="1504.1" cy="490.4" r="4.5"/>
<circle cx="1506.3" cy="490.4" r="4.5"/><circle cx="1506.3" cy="490.4" r="4.5"/><circle cx="1508.6" cy="490.4" r="4.5"/><circle cx="1508.3" cy="490.4" r="4.5"/><circle cx="1510.7" cy="490.4" r="4.5"/><circle cx="1515.2" cy="490.4" r="4.5"/><circle cx="1524.5" cy="490.4" r="4.5"/><circle cx="1524.2" cy="490.4" r="4.5"/>
<circle cx="1534.1" cy="490.4" r="4.5"/><circle cx="1534.3" cy="490.4" r="4.5"/><circle cx="1538.1" cy="490.4" r="4.5"/><circle cx="1537.8" cy="490.4" r="4.5"/><circle cx="1541.3" cy="490.4" r="4.5"/><circle cx="1541.1" cy="490.4" r="4.5"/><circle cx="1541" cy="490.4" r="4.5"/><circle cx="1543.6" cy="490.4" r="4.5"/>
<circle cx="1544" cy="490.4" r="4.5"/><circle cx="1550.6" cy="490.4" r="4.5"/><circle cx="1550.9" cy="490.4" r="4.5"/><circle cx="1550.7" cy="490.4" r="4.5"/><circle cx="1561.4" cy="490.4" r="4.5"/><circle cx="1568.4" cy="490.4" r="4.5"/><circle cx="1568.3" cy="490.4" r="4.5"/><circle cx="1571.4" cy="490.4" r="4.5"/>
<circle cx="1571.1" cy="490.4" r="4.5"/><circle cx="1571.3" cy="490.4" r="4.5"/><circle cx="1573.6" cy="490.4" r="4.5"/><circle cx="1573.7" cy="490.4" r="4.5"/><circle cx="1582.4" cy="490.4" r="4.5"/><circle cx="1582.8" cy="490.4" r="4.5"/><circle cx="1585.8" cy="490.4" r="4.5"/><circle cx="1585.7" cy="490.4" r="4.5"/>
<circle cx="1585.9" cy="490.4" r="4.5"/><circle cx="1589.7" cy="490.4" r="4.5"/><circle cx="1589.3" cy="490.4" r="4.5"/><circle cx="1589.4" cy="490.4" r="4.5"/><circle cx="1592.9" cy="490.4" r="4.5"/><circle cx="1593.3" cy="490.4" r="4.5"/><circle cx="1593.4" cy="490.4" r="4.5"/><circle cx="1596.1" cy="490.4" r="4.5"/>
<circle cx="1596.3" cy="490.4" r="4.5"/><circle cx="1603.1" cy="490.4" r="4.5"/><circle cx="1603.1" cy="490.4" r="4.5"/><circle cx="1610.3" cy="490.4" r="4.5"/><circle cx="1610.7" cy="490.4" r="4.5"/><circle cx="1610.6" cy="490.4" r="4.5"/><circle cx="1621.2" cy="490.4" r="4.5"/><circle cx="1621" cy="490.4" r="4.5"/>
<circle cx="1621.2" cy="490.4" r="4.5"/><circle cx="1630.7" cy="490.4" r="4.5"/><circle cx="1632.6" cy="490.4" r="4.5"/><circle cx="1636.5" cy="490.4" r="4.5"/><circle cx="1636.4" cy="490.4" r="4.5"/><circle cx="1644.3" cy="490.4" r="4.5"/><circle cx="1676.4" cy="490.4" r="4.5"/><circle cx="1681.7" cy="490.4" r="4.5"/>
<circle cx="1719.9" cy="490.4" r="4.5"/><circle cx="1495.2" cy="480.7" r="4.5"/><circle cx="1499" cy="480.7" r="4.5"/><circle cx="1501.3" cy="480.7" r="4.5"/><circle cx="1504.1" cy="480.7" r="4.5"/><circle cx="1503.6" cy="480.7" r="4.5"/><circle cx="1506.2" cy="480.7" r="4.5"/><circle cx="1508.2" cy="480.7" r="4.5"/>
<circle cx="1508.4" cy="480.7" r="4.5"/><circle cx="1511.1" cy="480.7" r="4.5"/><circle cx="1513.7" cy="480.7" r="4.5"/><circle cx="1524.4" cy="480.7" r="4.5"/><circle cx="1524.1" cy="480.7" r="4.5"/><circle cx="1534.1" cy="480.7" r="4.5"/><circle cx="1537.9" cy="480.7" r="4.5"/><circle cx="1541.1" cy="480.7" r="4.5"/>
<circle cx="1541" cy="480.7" r="4.5"/><circle cx="1543.6" cy="480.7" r="4.5"/><circle cx="1544" cy="480.7" r="4.5"/><circle cx="1547" cy="480.7" r="4.5"/><circle cx="1550.8" cy="480.7" r="4.5"/><circle cx="1561.4" cy="480.7" r="4.5"/><circle cx="1571.2" cy="480.7" r="4.5"/><circle cx="1573.3" cy="480.7" r="4.5"/>
<circle cx="1573.1" cy="480.7" r="4.5"/><circle cx="1582.5" cy="480.7" r="4.5"/><circle cx="1585.3" cy="480.7" r="4.5"/><circle cx="1585.4" cy="480.7" r="4.5"/><circle cx="1589.1" cy="480.7" r="4.5"/><circle cx="1589.1" cy="480.7" r="4.5"/><circle cx="1592.8" cy="480.7" r="4.5"/><circle cx="1593.1" cy="480.7" r="4.5"/>
<circle cx="1596.1" cy="480.7" r="4.5"/><circle cx="1600.7" cy="480.7" r="4.5"/><circle cx="1611.2" cy="480.7" r="4.5"/><circle cx="1611.3" cy="480.7" r="4.5"/><circle cx="1618.1" cy="480.7" r="4.5"/><circle cx="1621.1" cy="480.7" r="4.5"/><circle cx="1624.1" cy="480.7" r="4.5"/><circle cx="1628" cy="480.7" r="4.5"/>
<circle cx="1632.2" cy="480.7" r="4.5"/><circle cx="1644.3" cy="480.7" r="4.5"/><circle cx="1697.2" cy="480.7" r="4.5"/><circle cx="1734.6" cy="480.7" r="4.5"/><circle cx="1752.6" cy="480.7" r="4.5"/><circle cx="1508.4" cy="470.9" r="4.5"/><circle cx="1510.4" cy="470.9" r="4.5"/><circle cx="1510.1" cy="470.9" r="4.5"/>
<circle cx="1551.1" cy="470.9" r="4.5"/><circle cx="1550.4" cy="470.9" r="4.5"/><circle cx="1568.9" cy="470.9" r="4.5"/><circle cx="1570.4" cy="470.9" r="4.5"/><circle cx="1570.3" cy="470.9" r="4.5"/><circle cx="1583.3" cy="470.9" r="4.5"/><circle cx="1585.5" cy="470.9" r="4.5"/><circle cx="1585.3" cy="470.9" r="4.5"/>
<circle cx="1590.3" cy="470.9" r="4.5"/><circle cx="1590" cy="470.9" r="4.5"/><circle cx="1592.8" cy="470.9" r="4.5"/><circle cx="1593.2" cy="470.9" r="4.5"/><circle cx="1592.8" cy="470.9" r="4.5"/><circle cx="1596.2" cy="470.9" r="4.5"/><circle cx="1596" cy="470.9" r="4.5"/><circle cx="1603.7" cy="470.9" r="4.5"/>
<circle cx="1611.3" cy="470.9" r="4.5"/><circle cx="1611.6" cy="470.9" r="4.5"/><circle cx="1621.1" cy="470.9" r="4.5"/><circle cx="1636.5" cy="470.9" r="4.5"/><circle cx="1495.4" cy="461.2" r="4.5"/><circle cx="1495.1" cy="461.2" r="4.5"/><circle cx="1500.1" cy="461.2" r="4.5"/><circle cx="1503.4" cy="461.2" r="4.5"/>
<circle cx="1503.2" cy="461.2" r="4.5"/><circle cx="1510.6" cy="461.2" r="4.5"/><circle cx="1510.5" cy="461.2" r="4.5"/><circle cx="1513" cy="461.2" r="4.5"/><circle cx="1516.8" cy="461.2" r="4.5"/><circle cx="1523.2" cy="461.2" r="4.5"/><circle cx="1523.2" cy="461.2" r="4.5"/><circle cx="1525.8" cy="461.2" r="4.5"/>
<circle cx="1539.4" cy="461.2" r="4.5"/><circle cx="1542.8" cy="461.2" r="4.5"/><circle cx="1542.8" cy="461.2" r="4.5"/><circle cx="1544.8" cy="461.2" r="4.5"/><circle cx="1544.6" cy="461.2" r="4.5"/><circle cx="1547" cy="461.2" r="4.5"/><circle cx="1643.9" cy="461.2" r="4.5"/><circle cx="1498.5" cy="451.4" r="4.5"/>
<circle cx="1508.4" cy="451.4" r="4.5"/><circle cx="1520.7" cy="451.4" r="4.5"/><circle cx="1550.8" cy="451.4" r="4.5"/><circle cx="1558" cy="451.4" r="4.5"/><circle cx="1563.6" cy="451.4" r="4.5"/><circle cx="1571.6" cy="451.4" r="4.5"/><circle cx="1586.2" cy="451.4" r="4.5"/><circle cx="1585.6" cy="451.4" r="4.5"/>
<circle cx="1585.7" cy="451.4" r="4.5"/><circle cx="1611.4" cy="451.4" r="4.5"/><circle cx="1621.3" cy="451.4" r="4.5"/><circle cx="1684" cy="451.4" r="4.5"/><circle cx="1510.9" cy="441.7" r="4.5"/><circle cx="1510.9" cy="441.7" r="4.5"/><circle cx="1591.1" cy="441.7" r="4.5"/><circle cx="1621.3" cy="441.7" r="4.5"/>
<circle cx="1536.2" cy="431.9" r="4.5"/><circle cx="1583.3" cy="431.9" r="4.5"/><circle cx="1590.8" cy="431.9" r="4.5"/><circle cx="1591.2" cy="431.9" r="4.5"/><circle cx="1510.7" cy="422.2" r="4.5"/><circle cx="1498.4" cy="412.4" r="4.5"/><circle cx="1508.6" cy="412.4" r="4.5"/><circle cx="1531.5" cy="402.7" r="4.5"/>
<circle cx="1531.2" cy="402.7" r="4.5"/><circle cx="1533.5" cy="402.7" r="4.5"/><circle cx="1594" cy="402.7" r="4.5"/><circle cx="1507.8" cy="392.9" r="4.5"/><circle cx="1507.6" cy="392.9" r="4.5"/><circle cx="1510.8" cy="392.9" r="4.5"/><circle cx="1536.2" cy="392.9" r="4.5"/><circle cx="1692" cy="392.9" r="4.5"/>
<circle cx="1508.6" cy="383.2" r="4.5"/><circle cx="1571.3" cy="363.7" r="4.5"/><circle cx="1586" cy="256.4" r="4.5"/><circle cx="1550.8" cy="275.9" r="4.5"/><circle cx="1503.4" cy="285.7" r="4.5"/><circle cx="1558.2" cy="295.4" r="4.5"/><circle cx="1586" cy="305.2" r="4.5"/><circle cx="1601.4" cy="305.2" r="4.5"/>
<circle cx="1536" cy="324.7" r="4.5"/><circle cx="1533.4" cy="334.4" r="4.5"/><circle cx="1541.2" cy="334.4" r="4.5"/><circle cx="1533.6" cy="110.2" r="4.5"/><circle cx="1586.1" cy="168.7" r="4.5"/></g>
<rect class="fr" x="1444.8" y="88.3" width="452.2" height="438.5"/>
<line class="t" x1="1441.2" y1="118.4" x2="1444.8" y2="118.4"/><text class="tk" transform="translate(1437.1,128.8) scale(1,1.04)" text-anchor="end">40</text>
<line class="t" x1="1441.2" y1="218.1" x2="1444.8" y2="218.1"/><text class="tk" transform="translate(1436.8,228.1) scale(1,1.04)" text-anchor="end">30</text>
<line class="t" x1="1441.2" y1="318" x2="1444.8" y2="318"/><text class="tk" transform="translate(1437.1,328.1) scale(1,1.04)" text-anchor="end">20</text>
<line class="t" x1="1441.2" y1="417.5" x2="1444.8" y2="417.5"/><text class="tk" transform="translate(1437.1,428) scale(1,1.04)" text-anchor="end">10</text>
<line class="t" x1="1441.2" y1="517.1" x2="1444.8" y2="517.1"/><text class="tk" transform="translate(1439.6,528.3) scale(1,1.04)" text-anchor="end">0</text>
<line class="t" x1="1465.4" y1="526.8" x2="1465.4" y2="530.4"/><text class="tk" transform="translate(1466.9,557.6) scale(1,1.04)" text-anchor="middle">0</text>
<line class="t" x1="1593.5" y1="526.8" x2="1593.5" y2="530.4"/><text class="tk" transform="translate(1595,557.6) scale(1,1.04)" text-anchor="middle">5</text>
<line class="t" x1="1721.8" y1="526.8" x2="1721.8" y2="530.4"/><text class="tk" transform="translate(1727.7,557.6) scale(1,1.04)" text-anchor="middle">10</text>
<line class="t" x1="1850.2" y1="526.8" x2="1850.2" y2="530.4"/><text class="tk" transform="translate(1856.1,557.6) scale(1,1.04)" text-anchor="middle">15</text>
<text class="ax" x="1677.6" y="587.3" text-anchor="middle">Water level (cm)</text>
<text class="ax" transform="translate(1395.2,309.3) rotate(-90)" text-anchor="middle">Individuals/paddy</text>
<text class="ax" x="1886.3" y="136" text-anchor="end">Wood Sandpiper</text>
<text class="tag" x="1396.3" y="68.6">(c)</text>
</g>
</svg>
</body>
</html>
